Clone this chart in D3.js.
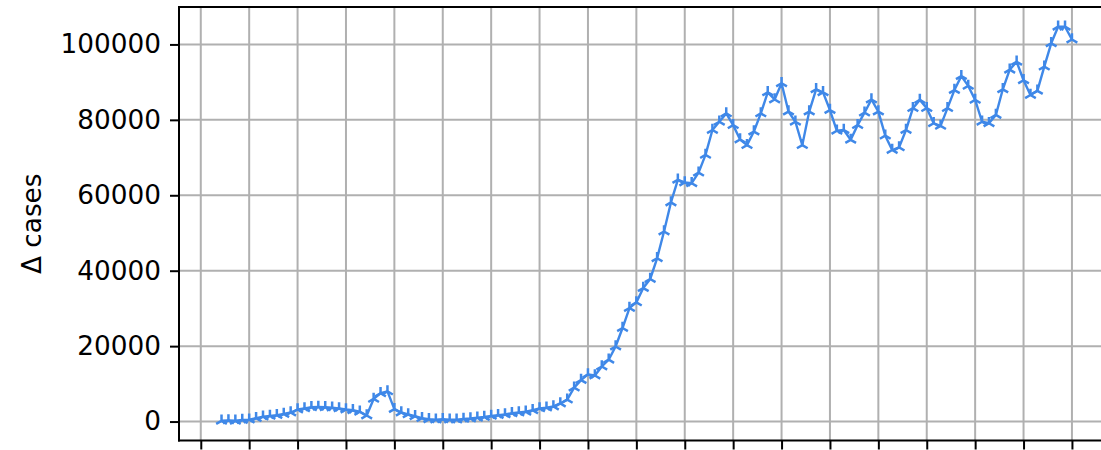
<!DOCTYPE html>
<html>
<head>
<meta charset="utf-8">
<script src="https://cdn.jsdelivr.net/npm/d3@7"></script>
<style>
  html, body { margin: 0; padding: 0; background: #fff; overflow: hidden; }
  svg { display: block; }
  text { font-family: "DejaVu Sans", sans-serif; }
</style>
</head>
<body>
<svg id="chart" width="1101" height="450"></svg>
<script>
// ---- data ----
const firstDay = 3;
const cases = [
  200, 300, 200, 400, 500, 900, 1300, 1500, 1700, 2000,
  2400, 3200, 3500, 3800, 3900, 3800, 3700, 3500, 3200, 3000,
  2600, 1600, 6000, 7500, 8000, 3300, 2400, 1900, 1400, 900,
  600, 500, 600, 500, 500, 700, 800, 1000, 1200, 1500,
  1700, 1900, 2200, 2400, 2600, 3000, 3500, 3700, 4000, 4800,
  5800, 9000, 11000, 12500, 12200, 14600, 16400, 19900, 24800, 30100,
  31600, 35400, 37800, 43300, 50400, 58100, 64100, 63400, 63200, 66000,
  70700, 77300, 79500, 81700, 78600, 74800, 73300, 76900, 81700, 87300,
  85400, 89700, 82200, 79500, 73300, 82200, 88100, 87300, 82600, 77100,
  77300, 74700, 78600, 81900, 85400, 82200, 75800, 72000, 72700, 77300,
  83100, 85300, 83100, 79100, 78400, 83100, 87900, 91600, 89000, 85300,
  79500, 79100, 81300, 88100, 93300, 95400, 90500, 86600, 87700, 94100,
  100300, 104700, 104700, 101300
];
const days = cases.map((_, i) => firstDay + i);
const xTicks = d3.range(0, 127, 7);
const yTicks = [0, 20000, 40000, 60000, 80000, 100000];
const yLabel = "\u0394 cases";

// ---- layout ----
const svg = d3.select("#chart");
const plotLeft = 179, plotTop = 7, plotBottom = 440.5;
const pxPerDay = 6.914;

const dExt = d3.extent(days);
const dPad = (dExt[1] - dExt[0]) * 0.05;
const xDom = [dExt[0] - dPad, dExt[1] + dPad];
const x = d3.scaleLinear().domain(xDom)
  .range([plotLeft, plotLeft + (xDom[1] - xDom[0]) * pxPerDay]);
const plotRight = x.range()[1];

const vExt = d3.extent(cases);
const vPad = (vExt[1] - vExt[0]) * 0.05;
const y = d3.scaleLinear().domain([vExt[0] - vPad, vExt[1] + vPad]).range([plotBottom, plotTop]);

const gridColor = "#b0b0b0";
const blue = "#3f88e8";
const fontSize = "26.3px";

// grid
const grid = svg.append("g");
grid.selectAll("line.gx").data(xTicks).join("line")
  .attr("x1", d => x(d)).attr("x2", d => x(d))
  .attr("y1", plotTop).attr("y2", plotBottom)
  .attr("stroke", gridColor).attr("stroke-width", 2);
grid.selectAll("line.gy").data(yTicks).join("line")
  .attr("x1", plotLeft).attr("x2", plotRight)
  .attr("y1", d => y(d)).attr("y2", d => y(d))
  .attr("stroke", gridColor).attr("stroke-width", 2);

// line
const line = d3.line().x((d, i) => x(days[i])).y(d => y(d));
svg.append("path").datum(cases)
  .attr("d", line).attr("fill", "none")
  .attr("stroke", blue).attr("stroke-width", 2.4)
  .attr("stroke-linejoin", "round");

// tri_up markers
const r = 6.2;
const tri = `M0,0L0,${-r}M0,0L${-0.866 * r},${0.5 * r}M0,0L${0.866 * r},${0.5 * r}`;
svg.append("g").selectAll("path").data(cases).join("path")
  .attr("transform", (d, i) => `translate(${x(days[i])},${y(d)})`)
  .attr("d", tri).attr("fill", "none")
  .attr("stroke", blue).attr("stroke-width", 2.5)
  .attr("stroke-linecap", "butt");

// axes
const yAxis = d3.axisLeft(y).tickValues(yTicks).tickSize(9).tickPadding(9)
  .tickFormat(d3.format("d"));
const gy = svg.append("g").attr("transform", `translate(${plotLeft},0)`).call(yAxis);
gy.select(".domain").remove();
gy.selectAll(".tick line").attr("stroke", "#000").attr("stroke-width", 2);
gy.selectAll(".tick text").attr("fill", "#000").style("font-size", fontSize)
  .style("font-family", "'DejaVu Sans', sans-serif");

const xAxis = d3.axisBottom(x).tickValues(xTicks).tickSize(9).tickFormat("");
const gx = svg.append("g").attr("transform", `translate(0,${plotBottom})`).call(xAxis);
gx.select(".domain").remove();
gx.selectAll(".tick line").attr("stroke", "#000").attr("stroke-width", 2);

// spines
const sp = svg.append("g").attr("stroke", "#000").attr("stroke-width", 2).attr("fill", "none");
sp.append("line").attr("x1", plotLeft).attr("x2", plotLeft).attr("y1", plotTop - 1).attr("y2", plotBottom + 1);
sp.append("line").attr("x1", plotLeft - 1).attr("x2", plotRight).attr("y1", plotBottom).attr("y2", plotBottom);
sp.append("line").attr("x1", plotLeft - 1).attr("x2", plotRight).attr("y1", plotTop).attr("y2", plotTop);
sp.append("line").attr("x1", plotRight).attr("x2", plotRight).attr("y1", plotTop).attr("y2", plotBottom);

// y label
svg.append("text")
  .attr("transform", `translate(41,${(plotTop + plotBottom) / 2}) rotate(-90)`)
  .attr("text-anchor", "middle")
  .style("font-size", fontSize).attr("fill", "#000")
  .text(yLabel);
</script>
</body>
</html>
